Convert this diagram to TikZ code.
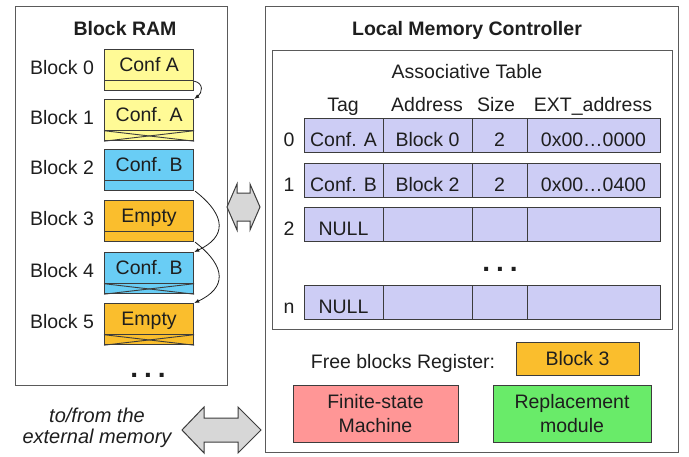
\documentclass[tikz,border=0pt]{standalone}
\usepackage{fontspec}
\setmainfont{Liberation Sans}
\definecolor{ink}{RGB}{30,30,30}
\definecolor{edge}{RGB}{60,60,60}
\definecolor{boxedge}{RGB}{90,90,90}
\definecolor{cyel}{RGB}{255,250,150}
\definecolor{cblue}{RGB}{105,205,245}
\definecolor{corange}{RGB}{250,190,45}
\definecolor{clav}{RGB}{205,205,245}
\definecolor{cpink}{RGB}{255,150,150}
\definecolor{cgreen}{RGB}{105,235,105}
\definecolor{carrow}{RGB}{215,215,215}
\tikzset{
  txt/.style={text=ink, inner sep=0pt, anchor=base, font=\fontsize{19.5}{22}\selectfont},
  ttl/.style={txt, font=\fontsize{19.5}{22}\selectfont\bfseries},
  dotsty/.style={txt, font=\fontsize{28}{28}\selectfont\bfseries},
  frame/.style={draw=boxedge, line width=1.3pt},
  blk/.style={draw=edge, line width=1.2pt, minimum width=89pt, minimum height=41pt, inner sep=0pt, anchor=north west},
  cell/.style={draw=edge, line width=1.2pt, fill=clav, minimum height=34pt, inner sep=0pt, anchor=north west},
  mod/.style={draw=edge, line width=1.2pt, inner sep=0pt, anchor=north west},
  link/.style={draw=ink, line width=0.8pt, -{Latex[length=5pt,width=4pt]}},
  bigarrow/.style={draw=edge, line width=1pt, fill=carrow},
}
\usetikzlibrary{arrows.meta}
\begin{document}
\begin{tikzpicture}[x=1pt,y=-1pt]
\useasboundingbox (0,0) rectangle (689,456);
% frames
\node[frame, minimum width=212pt, minimum height=379pt, inner sep=0pt, anchor=north west] (ram) at (15,6) {};
\node[frame, minimum width=413pt, minimum height=446pt, inner sep=0pt, anchor=north west] (lmc) at (265,6) {};
\node[ttl] (ramt) at (125,35) {Block RAM};
\node[ttl] (lmct) at (467,35) {Local Memory Controller};
% blocks
\foreach \i/\top/\col/\t in {0/49/cyel/{Conf A},1/99/cyel/{Conf. A},2/149/cblue/{Conf. B},3/200/corange/{Empty},4/252/cblue/{Conf. B},5/303/corange/{Empty}}{
  \node[blk, fill=\col] (b\i) at (104,\top) {};
  \draw[draw=edge, line width=1pt] ([yshift=10.5pt]b\i.south west) -- ([yshift=10.5pt]b\i.south east);
  \node[txt] (bt\i) at ([yshift=-22pt]b\i.north) {\t};
  \node[txt] (bl\i) at (62,\top+25) {Block \i};
}
\foreach \i in {1,4,5}{
  \draw[draw=edge, line width=0.9pt] ([yshift=10.5pt]b\i.south west) -- (b\i.south east);
  \draw[draw=edge, line width=0.9pt] ([yshift=10.5pt]b\i.south east) -- (b\i.south west);
}
\node[dotsty] (rdots) at (148,377) {.\hspace{6pt}.\hspace{6pt}.};
% links between blocks
\draw[link] ([yshift=10pt]b0.south east) .. controls +(10,2) and +(8,-6) .. (b1.north east);
\draw[link] ([xshift=1pt]b2.south east) .. controls +(32,25) and +(32,-15) .. (b4.north east);
\draw[link] ([xshift=1pt]b3.south east) .. controls +(32,25) and +(32,-15) .. (b5.north east);
% middle double arrow
\coordinate (ma) at (227,207);
\draw[bigarrow] (ma) -- ++(10,-23) -- ++(0,9) -- ++(13,0) -- ++(0,-9) -- ++(10,23) -- ++(-10,23) -- ++(0,-9) -- ++(-13,0) -- ++(0,9) -- cycle;
% bottom double arrow
\coordinate (ba) at (182,430);
\draw[bigarrow] (ba) -- ++(22,-23) -- ++(0,11) -- ++(34,0) -- ++(0,-11) -- ++(23,23) -- ++(-23,23) -- ++(0,-11) -- ++(-34,0) -- ++(0,11) -- cycle;
\node[txt, font=\fontsize{20}{21}\selectfont\itshape] (ext1) at (97,422) {to/from the};
\node[txt, font=\fontsize{20}{21}\selectfont\itshape] (ext2) at (97,443) {external memory};
% associative table
\node[frame, line width=1.2pt, minimum width=400pt, minimum height=279pt, inner sep=0pt, anchor=north west] (tab) at (272,50) {};
\node[txt] (tabt) at (467,78) {Associative Table};
\node[txt] (h1) at (343,111) {Tag};
\node[txt] (h2) at (427,111) {Address};
\node[txt] (h3) at (496,111) {Size};
\node[txt] (h4) at (593,111) {EXT\_address};
\foreach \r/\top/\idx/\a/\b/\c/\d in {0/118/0/{Conf. A}/{Block 0}/2/{0x00\ldots0000},1/163/1/{Conf. B}/{Block 2}/2/{0x00\ldots0400},2/207/2/NULL/{}/{}/{},3/285/n/NULL/{}/{}/{}}{
  \node[cell, minimum width=79pt] (c\r a) at (304,\top) {};
  \node[cell, minimum width=89pt] (c\r b) at (383,\top) {};
  \node[cell, minimum width=55pt] (c\r c) at (472,\top) {};
  \node[cell, minimum width=133pt] (c\r d) at (527,\top) {};
  \node[txt] (r\r) at (289,\top+28) {\idx};
  \node[txt] (t\r a) at (343.5,\top+28) {\a};
  \node[txt] (t\r b) at (427.5,\top+28) {\b};
  \node[txt] (t\r c) at (499.5,\top+28) {\c};
  \node[txt] (t\r d) at (593.5,\top+28) {\d};
}
\node[dotsty] (tdots) at (500,271) {.\hspace{6pt}.\hspace{6pt}.};
% register and modules
\node[txt] (frt) at (403,368) {Free blocks Register:};
\node[mod, fill=corange, minimum width=123pt, minimum height=33pt] (reg) at (516,342) {};
\node[txt] (regt) at (577.5,365) {Block 3};
\node[mod, fill=cpink, minimum width=165pt, minimum height=57pt] (fsm) at (293,385) {};
\node[txt] (fsmt1) at (375.5,408) {Finite-state};
\node[txt] (fsmt2) at (375.5,432) {Machine};
\node[mod, fill=cgreen, minimum width=158pt, minimum height=57pt] (rep) at (493,385) {};
\node[txt] (rept1) at (572,408) {Replacement};
\node[txt] (rept2) at (572,432) {module};
\end{tikzpicture}
\end{document}
